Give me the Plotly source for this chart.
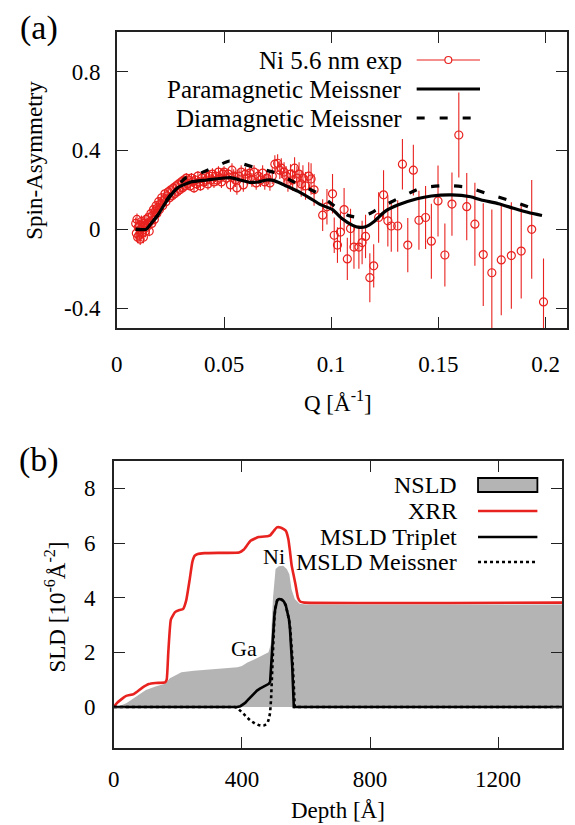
import plotly.graph_objects as go

# ---------------- panel (a): spin asymmetry vs Q ----------------
q_exp = [
    0.0088, 0.0091, 0.0094, 0.0097, 0.0100, 0.0103, 0.0106, 0.0109, 0.0112, 0.0115,
    0.0118, 0.0121, 0.0124, 0.0127, 0.0130, 0.0133, 0.0136, 0.0139,
    0.0143, 0.0147, 0.0151, 0.0155, 0.0159, 0.0163, 0.0167, 0.0171, 0.0175, 0.0179,
    0.0183, 0.0187, 0.0191, 0.0195, 0.0199, 0.0204, 0.0209, 0.0214, 0.0219, 0.0224,
    0.0229, 0.0234, 0.0240, 0.0246, 0.0252, 0.0258, 0.0264, 0.0270, 0.0276, 0.0282,
    0.0288, 0.0294,
    0.0300, 0.0306, 0.0312, 0.0318, 0.0324, 0.0330, 0.0336, 0.0342, 0.0348, 0.0354,
    0.0360, 0.0366, 0.0372, 0.0378, 0.0384, 0.0390, 0.0397, 0.0404, 0.0411, 0.0418,
    0.0425, 0.0432, 0.0439, 0.0446, 0.0453, 0.0460, 0.0467, 0.0474, 0.0481, 0.0488,
    0.0495,
    0.0500, 0.0510, 0.0520, 0.0530, 0.0537, 0.0545, 0.0553, 0.0560, 0.0570, 0.0580,
    0.0590, 0.0600, 0.0610, 0.0620, 0.0630, 0.0640, 0.0650, 0.0660, 0.0670, 0.0680,
    0.0690, 0.0700, 0.0714, 0.0725, 0.0737, 0.0750, 0.0760, 0.0767, 0.0780, 0.0790,
    0.0798, 0.0810, 0.0820, 0.0829, 0.0840, 0.0850, 0.0860, 0.0868, 0.0880, 0.0895,
    0.0906, 0.0920, 0.0960, 0.0980, 0.1006, 0.1014, 0.1029, 0.1043, 0.1060, 0.1075,
    0.1090, 0.1106, 0.1129, 0.1144, 0.1160, 0.1180, 0.1198, 0.1221, 0.1244, 0.1264,
    0.1280, 0.1310, 0.1332, 0.1357, 0.1383, 0.1409, 0.1440, 0.1467, 0.1498, 0.1530,
    0.1563, 0.1595, 0.1632, 0.1670, 0.1709, 0.1749, 0.1793, 0.1840, 0.1886, 0.1935,
    0.1990,
]
sa_exp = [
    0.03, -0.02, 0.05, -0.04, 0.01, -0.03, 0.02, -0.05, 0.00, 0.04,
    -0.02, 0.01, -0.04, 0.03, 0.02, -0.01, 0.05, 0.01,
    0.03, 0.06, -0.01, 0.04, 0.08, 0.03, 0.07, 0.10, 0.05, 0.09,
    0.12, 0.08, 0.11, 0.14, 0.10, 0.13, 0.16, 0.12, 0.15, 0.18,
    0.14, 0.17, 0.19, 0.16, 0.20, 0.17, 0.21, 0.18, 0.22, 0.19,
    0.23, 0.20,
    0.24, 0.21, 0.25, 0.22, 0.26, 0.23, 0.25, 0.22, 0.26, 0.24,
    0.21, 0.25, 0.23, 0.27, 0.24, 0.22, 0.26, 0.24, 0.27, 0.25,
    0.23, 0.27, 0.25, 0.28, 0.24, 0.27, 0.25, 0.29, 0.26, 0.24,
    0.28,
    0.29, 0.26, 0.28, 0.225, 0.30, 0.27, 0.25, 0.21, 0.27, 0.29,
    0.225, 0.28, 0.26, 0.285, 0.25, 0.29, 0.235, 0.27, 0.25, 0.285,
    0.24, 0.26, 0.235, 0.27, 0.33, 0.335, 0.30, 0.31, 0.29, 0.27,
    0.24, 0.28, 0.25, 0.31, 0.26, 0.28, 0.23, 0.26, 0.22, 0.27,
    0.255, 0.20, 0.072, 0.114, 0.18, -0.03, -0.08, -0.014, 0.10, -0.15,
    0.004, -0.09, -0.09, -0.067, -0.036, -0.245, -0.185, 0.06, 0.175, 0.043,
    0.017, 0.017, 0.33, -0.08, 0.30, 0.046, 0.06, -0.06, 0.144, -0.13,
    0.128, 0.478, 0.115, 0.026, -0.128, -0.22, -0.155, -0.133, -0.11, 0.0,
    -0.368,
]
sa_err = [
    0.03, 0.03, 0.03, 0.03, 0.03, 0.03, 0.03, 0.03, 0.03, 0.03,
    0.03, 0.03, 0.03, 0.03, 0.03, 0.03, 0.03, 0.03,
    0.025, 0.025, 0.025, 0.025, 0.025, 0.025, 0.025, 0.025, 0.025, 0.025,
    0.025, 0.025, 0.025, 0.025, 0.025, 0.025, 0.025, 0.025, 0.025, 0.025,
    0.025, 0.025, 0.025, 0.025, 0.025, 0.025, 0.025, 0.025, 0.025, 0.025,
    0.025, 0.025,
    0.025, 0.025, 0.025, 0.025, 0.025, 0.025, 0.025, 0.025, 0.025, 0.025,
    0.025, 0.025, 0.025, 0.025, 0.025, 0.025, 0.025, 0.025, 0.03, 0.03,
    0.03, 0.03, 0.03, 0.03, 0.03, 0.03, 0.03, 0.03, 0.03, 0.03,
    0.03,
    0.03, 0.03, 0.03, 0.035, 0.035, 0.035, 0.035, 0.035, 0.035, 0.035,
    0.035, 0.035, 0.035, 0.035, 0.035, 0.035, 0.035, 0.035, 0.035, 0.04,
    0.04, 0.04, 0.04, 0.04, 0.045, 0.045, 0.045, 0.05, 0.05, 0.05,
    0.05, 0.05, 0.055, 0.055, 0.06, 0.06, 0.065, 0.065, 0.07, 0.07,
    0.08, 0.08, 0.08, 0.09, 0.10, 0.09, 0.09, 0.10, 0.11, 0.107,
    0.10, 0.11, 0.11, 0.11, 0.11, 0.124, 0.11, 0.128, 0.124, 0.13,
    0.13, 0.13, 0.128, 0.137, 0.128, 0.15, 0.16, 0.19, 0.18, 0.16,
    0.16, 0.215, 0.17, 0.21, 0.26, 0.32, 0.28, 0.27, 0.24, 0.25,
    0.22,
]

q_para = [0.0088, 0.0100, 0.0137, 0.0160, 0.0190, 0.0230, 0.0283, 0.0345, 0.0420,
          0.0498, 0.0530, 0.0575, 0.0620, 0.0660, 0.0700, 0.0730, 0.0770, 0.0806,
          0.0850, 0.0898, 0.0950, 0.1006, 0.1050, 0.1100, 0.1130, 0.1160, 0.1200,
          0.1250, 0.1310, 0.1400, 0.1467, 0.1560, 0.1650, 0.1700, 0.1780, 0.1850,
          0.1920, 0.1983]
sa_para = [0.0, 0.0, 0.0, 0.03, 0.07, 0.14, 0.21, 0.24, 0.25,
           0.26, 0.262, 0.25, 0.238, 0.24, 0.25, 0.248, 0.23, 0.212,
           0.19, 0.16, 0.125, 0.10, 0.055, 0.02, 0.01, 0.013, 0.04,
           0.09, 0.123, 0.155, 0.169, 0.175, 0.165, 0.149, 0.13, 0.107,
           0.085, 0.07]

q_dia = [0.0088, 0.0137, 0.0160, 0.0190, 0.0230, 0.0283, 0.0320, 0.0345, 0.0437,
         0.0521, 0.0560, 0.0637, 0.0737, 0.0837, 0.0937, 0.1030, 0.1080, 0.1130,
         0.1180, 0.1221, 0.1314, 0.1421, 0.1537, 0.1637, 0.1744, 0.1852, 0.1960]
sa_dia = [0.0, 0.0, 0.03, 0.07, 0.145, 0.22, 0.26, 0.265, 0.306,
          0.345, 0.34, 0.316, 0.287, 0.234, 0.183, 0.106, 0.07, 0.06,
          0.08, 0.106, 0.157, 0.21, 0.222, 0.213, 0.175, 0.14, 0.097]

q_ticks = [0, 0.05, 0.1, 0.15, 0.2]
q_ticktext = ["0", "0.05", "0.1", "0.15", "0.2"]
sa_ticks = [-0.4, 0, 0.4, 0.8]
sa_ticktext = ["-0.4", "0", "0.4", "0.8"]

# ---------------- panel (b): SLD depth profiles ----------------
d_nsld = [0, 20, 40, 60, 80, 100, 130, 160, 175, 190, 211, 250, 300, 386, 400, 417,
          440, 457, 483, 490, 497, 505, 515, 529, 540, 548, 555, 565, 580, 600, 1400]
v_nsld = [0, 0.05, 0.15, 0.3, 0.45, 0.62, 0.75, 0.85, 1.05, 1.15, 1.27, 1.33, 1.37,
          1.45, 1.5, 1.63, 1.75, 1.85, 2.0, 2.3, 4.0, 5.05, 5.15, 5.17, 5.05, 4.86,
          4.3, 3.95, 3.78, 3.75, 3.75]

d_xrr = [0, 10, 37, 62, 88, 109, 130, 160, 165, 170, 178, 191, 205, 216, 226, 237,
         245, 252, 262, 283, 330, 391, 405, 427, 452, 480, 488, 500, 509, 520, 529,
         537, 545, 550, 555, 560, 567, 575, 583, 595, 1400]
v_xrr = [0, 0.15, 0.4, 0.47, 0.7, 0.84, 0.88, 0.9, 1.0, 2.0, 3.2, 3.47, 3.55, 3.58,
         3.9, 4.68, 5.3, 5.53, 5.6, 5.63, 5.64, 5.65, 5.75, 6.08, 6.22, 6.25, 6.28,
         6.45, 6.57, 6.57, 6.52, 6.45, 6.14, 5.7, 5.2, 4.9, 4.5, 4.0, 3.85, 3.82, 3.82]

d_trip = [0, 385, 395, 402, 410, 418, 427, 437, 447, 456, 465, 472, 478, 484, 488,
          491, 494, 498, 501, 504, 507, 510, 514, 518, 524, 531, 537, 543, 547, 550,
          553, 555, 557, 559, 562, 1400]
v_trip = [0, 0, 0.03, 0.08, 0.15, 0.25, 0.36, 0.49, 0.6, 0.67, 0.72, 0.76, 0.8, 0.85,
          0.92, 1.5, 2.2, 2.85, 3.3, 3.6, 3.8, 3.9, 3.94, 3.95, 3.93, 3.86, 3.72,
          3.45, 3.2, 2.85, 2.4, 2.0, 1.5, 0.9, 0, 0]

d_meis = [0, 378, 385, 392, 399, 406, 416, 427, 440, 452, 462, 470, 476, 481, 485,
          488, 491, 494, 497, 501, 504, 507, 510, 514, 518, 524, 531, 537, 543, 547,
          551, 555, 558, 561, 565, 1400]
v_meis = [0, 0, -0.03, -0.1, -0.18, -0.26, -0.38, -0.5, -0.6, -0.66, -0.68, -0.67,
          -0.63, -0.55, -0.4, -0.2, 0.3, 1.2, 2.26, 3.2, 3.6, 3.8, 3.9, 3.94, 3.95,
          3.93, 3.86, 3.72, 3.45, 3.2, 2.85, 2.3, 1.7, 1.0, 0, 0]

d_ticks = [0, 400, 800, 1200]
sld_ticks = [0, 2, 4, 6, 8]

# ---------------- styling ----------------
W, H = 575, 825
FONT = "Liberation Serif"
RED = "#e8221f"
GREY = "#b4b4b4"


def fx(x):
    return x / W


def fy(y):
    return 1 - y / H


fig = go.Figure()

fig.add_trace(go.Scatter(
    x=q_exp, y=sa_exp, mode="markers", xaxis="x", yaxis="y",
    marker=dict(symbol="circle-open", size=8, color=RED, line=dict(width=1.2, color=RED)),
    error_y=dict(type="data", array=sa_err, visible=True, color=RED, thickness=1.1, width=0),
    showlegend=False,
))
fig.add_trace(go.Scatter(
    x=q_para, y=sa_para, mode="lines", xaxis="x", yaxis="y",
    line=dict(color="black", width=3.2, shape="spline", smoothing=0.5),
    showlegend=False,
))
fig.add_trace(go.Scatter(
    x=q_dia, y=sa_dia, mode="lines", xaxis="x", yaxis="y",
    line=dict(color="black", width=3.2, dash="8px,15px", shape="spline", smoothing=0.5),
    showlegend=False,
))

fig.add_trace(go.Scatter(
    x=d_nsld, y=v_nsld, mode="lines", xaxis="x2", yaxis="y2", fill="tozeroy",
    fillcolor=GREY, line=dict(width=0, color=GREY), showlegend=False,
))
fig.add_trace(go.Scatter(
    x=d_xrr, y=v_xrr, mode="lines", xaxis="x2", yaxis="y2",
    line=dict(color=RED, width=2.6, shape="spline", smoothing=0.4), showlegend=False,
))
fig.add_trace(go.Scatter(
    x=d_meis, y=v_meis, mode="lines", xaxis="x2", yaxis="y2",
    line=dict(color="black", width=2.6, dash="dot"), showlegend=False,
))
fig.add_trace(go.Scatter(
    x=d_trip, y=v_trip, mode="lines", xaxis="x2", yaxis="y2",
    line=dict(color="black", width=2.6), showlegend=False,
))

axis_common = dict(
    showline=True, linecolor="#222222", linewidth=1.6, mirror="allticks",
    ticks="inside", ticklen=11, tickwidth=1.4, tickcolor="#222222",
    showgrid=False, zeroline=False, tickfont=dict(family=FONT, size=23, color="black"),
)

fig.update_layout(
    width=W, height=H, margin=dict(l=0, r=0, t=0, b=0),
    paper_bgcolor="white", plot_bgcolor="white", showlegend=False,
    xaxis=dict(domain=[fx(112), fx(567)], range=[0, 0.21], tickvals=q_ticks,
               ticktext=q_ticktext, anchor="y", ticklabelstandoff=15, **axis_common),
    yaxis=dict(domain=[fy(328), fy(32)], range=[-0.5, 1.0], tickvals=sa_ticks,
               ticktext=sa_ticktext, anchor="x", ticklabelstandoff=10, **axis_common),
    xaxis2=dict(domain=[fx(109), fx(562)], range=[0, 1400], tickvals=d_ticks,
                anchor="y2", ticklabelstandoff=10, **axis_common),
    yaxis2=dict(domain=[fy(748), fy(461)], range=[-1.5, 9], tickvals=sld_ticks,
                anchor="x2", ticklabelstandoff=12, **axis_common),
)

ann = []
shapes = []


def text(x, y, s, size, xanchor="center", angle=0):
    ann.append(dict(x=fx(x), y=fy(y), xref="paper", yref="paper", text=s, showarrow=False,
                    xanchor=xanchor, yanchor="middle", textangle=angle,
                    font=dict(family=FONT, size=size, color="black")))


# panel labels and axis titles
text(33, 28, "(a)", 34)
text(33, 460, "(b)", 34)
text(28, 160, "Spin-Asymmetry", 23, angle=-90)
text(335, 401, "Q [Å<sup>-1</sup>]", 23)
text(50, 607, "SLD [10<sup>-6</sup>Å<sup>-2</sup>]", 23, angle=-90)
text(336, 810, "Depth [Å]", 23)

# layer labels inside panel (b)
ann.append(dict(x=500, y=5.5, xref="x2", yref="y2", text="Ni", showarrow=False,
                font=dict(family=FONT, size=22, color="black")))
ann.append(dict(x=406, y=2.15, xref="x2", yref="y2", text="Ga", showarrow=False,
                font=dict(family=FONT, size=22, color="black")))

# key for panel (a)
legend_a = ["Ni 5.6 nm exp", "Paramagnetic Meissner", "Diamagnetic Meissner"]
rows_a = [60, 89, 118]
for lbl, yy in zip(legend_a, rows_a):
    text(402, yy, lbl, 25, xanchor="right")
shapes.append(dict(type="line", xref="paper", yref="paper", x0=fx(415), x1=fx(479),
                   y0=fy(rows_a[0]), y1=fy(rows_a[0]), line=dict(color=RED, width=1.2)))
shapes.append(dict(type="circle", xref="paper", yref="paper", x0=fx(443.5), x1=fx(450.5),
                   y0=fy(rows_a[0] + 3.5), y1=fy(rows_a[0] - 3.5),
                   line=dict(color=RED, width=1.2), fillcolor="white"))
shapes.append(dict(type="line", xref="paper", yref="paper", x0=fx(415), x1=fx(479),
                   y0=fy(rows_a[1]), y1=fy(rows_a[1]), line=dict(color="black", width=3.2)))
shapes.append(dict(type="line", xref="paper", yref="paper", x0=fx(415), x1=fx(479),
                   y0=fy(rows_a[2]), y1=fy(rows_a[2]),
                   line=dict(color="black", width=3.2, dash="8px,15px")))

# key for panel (b)
legend_b = ["NSLD", "XRR", "MSLD Triplet", "MSLD Meissner"]
rows_b = [485, 511, 537, 562]
for lbl, yy in zip(legend_b, rows_b):
    text(458, yy, lbl, 24, xanchor="right")
shapes.append(dict(type="rect", xref="paper", yref="paper", x0=fx(477), x1=fx(537),
                   y0=fy(rows_b[0] + 7), y1=fy(rows_b[0] - 7),
                   line=dict(color="black", width=1.8), fillcolor=GREY))
shapes.append(dict(type="line", xref="paper", yref="paper", x0=fx(477), x1=fx(537),
                   y0=fy(rows_b[1]), y1=fy(rows_b[1]), line=dict(color=RED, width=2.6)))
shapes.append(dict(type="line", xref="paper", yref="paper", x0=fx(477), x1=fx(537),
                   y0=fy(rows_b[2]), y1=fy(rows_b[2]), line=dict(color="black", width=2.6)))
shapes.append(dict(type="line", xref="paper", yref="paper", x0=fx(477), x1=fx(537),
                   y0=fy(rows_b[3]), y1=fy(rows_b[3]),
                   line=dict(color="black", width=2.6, dash="dot")))

fig.update_layout(annotations=ann, shapes=shapes)
fig.write_html("out.html")
